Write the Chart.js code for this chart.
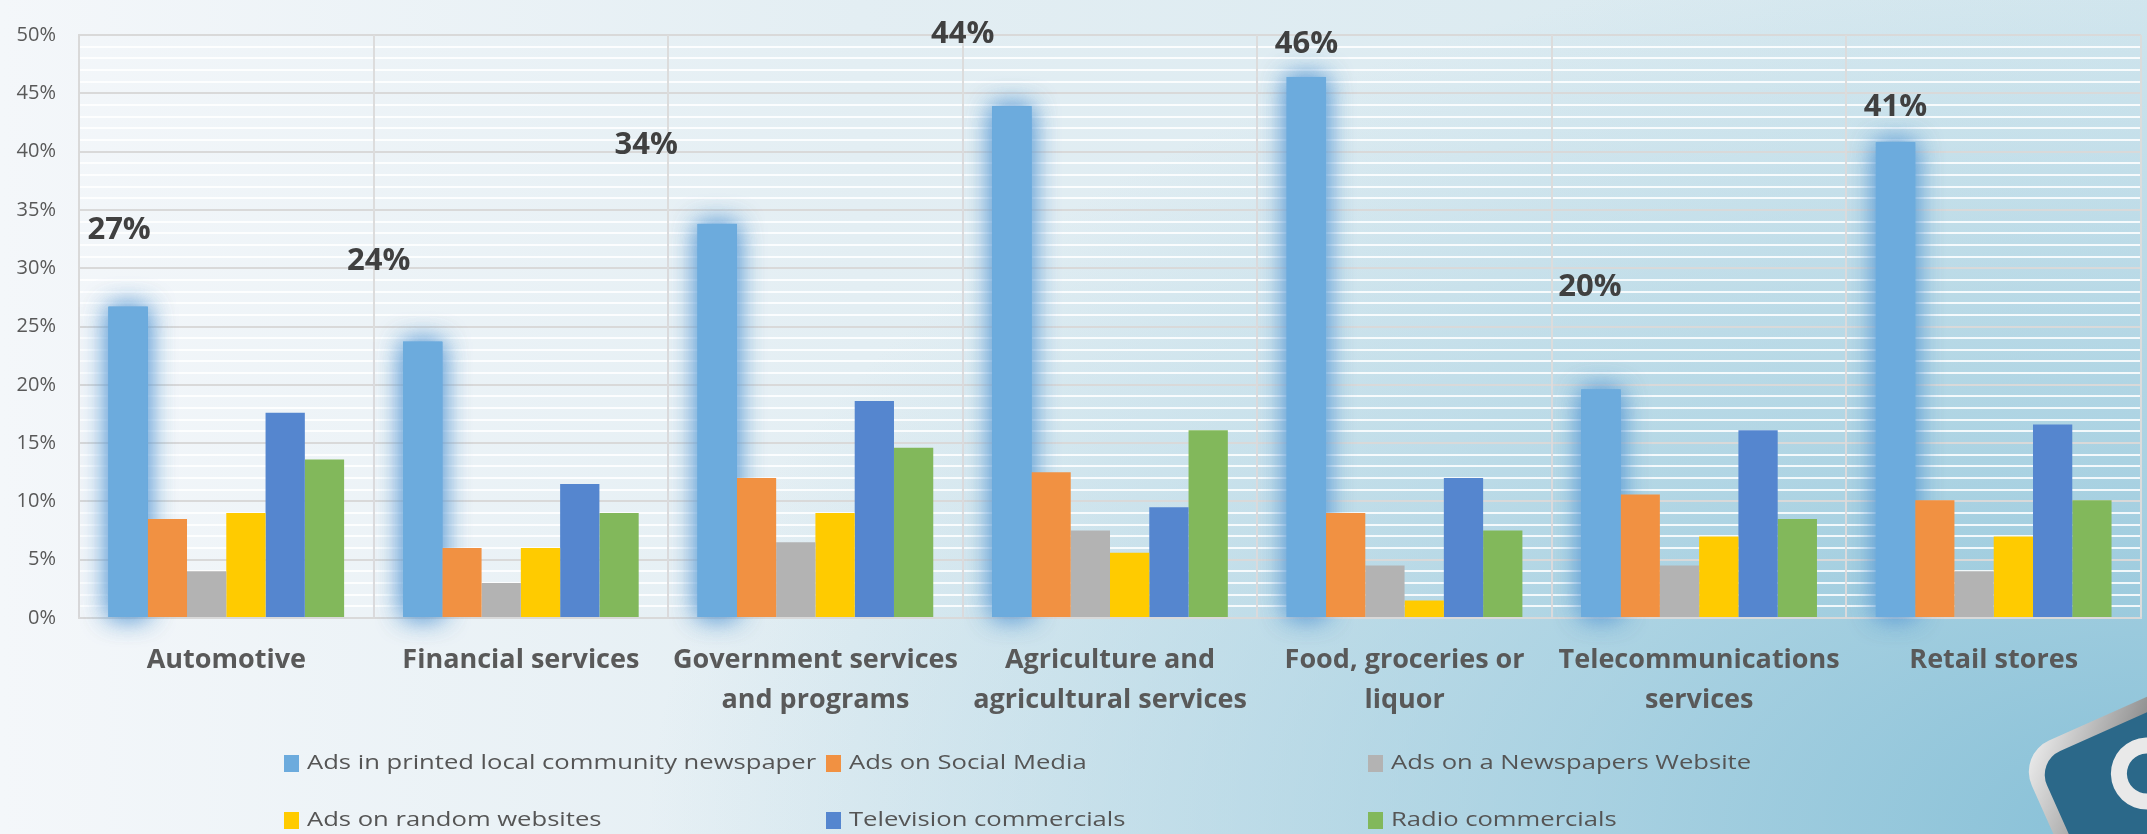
<!DOCTYPE html>
<html>
<head>
<meta charset="utf-8">
<script src="https://cdn.jsdelivr.net/npm/chart.js@4.4.1/dist/chart.umd.min.js"></script>
<style>
  html, body { margin: 0; padding: 0; }
  body {
    width: 2147px; height: 834px; overflow: hidden;
    background:
      radial-gradient(ellipse 1500px 900px at 2147px 834px, rgba(135,192,215,1) 0%, rgba(150,200,220,0.7) 40%, rgba(200,225,235,0) 100%),
      linear-gradient(90deg, #f4f7fa 0%, #e3eef3 40%, #d6e8ef 100%);
  }
  #wrap { position: relative; width: 2147px; height: 834px; }
</style>
</head>
<body>
<div id="wrap"><canvas id="adsChart"></canvas></div>
<script>
const categories = [
  'Automotive',
  'Financial services',
  ['Government services', 'and programs'],
  ['Agriculture and', 'agricultural services'],
  ['Food, groceries or', 'liquor'],
  ['Telecommunications', 'services'],
  'Retail stores'
];

const seriesNames = [
  'Ads in printed local community newspaper',
  'Ads on Social Media',
  'Ads on a Newspapers Website',
  'Ads on random websites',
  'Television commercials',
  'Radio commercials'
];

// values in %
const printedNews   = [26.7, 23.7, 33.8, 43.9, 46.4, 19.6, 40.8];
const socialMedia   = [8.5, 6.0, 12.0, 12.5, 9.0, 10.6, 10.1];
const newsWebsite   = [4.0, 3.0, 6.5, 7.5, 4.5, 4.5, 4.0];
const randomSites   = [9.0, 6.0, 9.0, 5.6, 1.5, 7.0, 7.0];
const television    = [17.6, 11.5, 18.6, 9.5, 12.0, 16.1, 16.6];
const radio         = [13.6, 9.0, 14.6, 16.1, 7.5, 8.5, 10.1];

const colors = ['#6cabdd', '#f19142', '#b3b3b3', '#ffcb00', '#5586cf', '#82b85b'];

// where each "xx%" label sits relative to the top of its newspaper bar
const labelShift = [[-9, -77], [-44, -80], [-71, -79], [-49, -72], [0, -33], [-11, -102], [0, -35]];

const FONT = "'Open Sans', sans-serif";

// soft blue halo behind the newspaper bars, painted before any bar
const glowPlugin = {
  id: 'glow',
  beforeDatasetsDraw(chart) {
    const ctx = chart.ctx;
    const meta = chart.getDatasetMeta(0);
    ctx.save();
    ctx.shadowColor = 'rgba(91,155,213,0.8)';
    ctx.shadowBlur = 26;
    ctx.fillStyle = colors[0];
    for (let pass = 0; pass < 2; pass++) {
      meta.data.forEach(bar => {
        const p = bar.getProps(['x', 'y', 'base', 'width'], true);
        ctx.fillRect(p.x - p.width / 2, p.y, p.width, p.base - p.y);
      });
    }
    ctx.restore();
  }
};

const topLabelPlugin = {
  id: 'topLabels',
  afterDatasetsDraw(chart) {
    const ctx = chart.ctx;
    const meta = chart.getDatasetMeta(0);
    ctx.save();
    ctx.font = "bold 31px " + FONT;
    ctx.fillStyle = '#404040';
    ctx.textAlign = 'center';
    ctx.textBaseline = 'middle';
    meta.data.forEach((bar, i) => {
      const txt = Math.round(printedNews[i]) + '%';
      ctx.fillText(txt, bar.x + labelShift[i][0], bar.y + labelShift[i][1]);
    });
    ctx.restore();
  }
};

// legend laid out in 3 fixed columns like the original
const legendPlugin = {
  id: 'gridLegend',
  afterDraw(chart) {
    const ctx = chart.ctx;
    const cols = [284, 826, 1368];
    const rows = [763, 820];
    ctx.save();
    ctx.font = "20px " + FONT;
    ctx.textBaseline = 'middle';
    chart.data.datasets.forEach((ds, i) => {
      const x = cols[i % 3], y = rows[Math.floor(i / 3)];
      ctx.fillStyle = ds.backgroundColor;
      ctx.fillRect(x, y - 8, 15, 17);
      ctx.fillStyle = '#555555';
      ctx.save();
      ctx.translate(x + 23, y);
      ctx.scale(1.28, 1);
      ctx.fillText(ds.label, 0, 0);
      ctx.restore();
    });
    ctx.restore();
  }
};

// the corner badge in the bottom right
const badgePlugin = {
  id: 'badge',
  afterDraw(chart) {
    const ctx = chart.ctx;
    ctx.save();
    ctx.translate(2150, 805);
    ctx.rotate(-0.42);
    const r = 34;
    function rr(x, y, w, h, rad) {
      ctx.beginPath();
      ctx.moveTo(x + rad, y);
      ctx.arcTo(x + w, y, x + w, y + h, rad);
      ctx.arcTo(x + w, y + h, x, y + h, rad);
      ctx.arcTo(x, y + h, x, y, rad);
      ctx.arcTo(x, y, x + w, y, rad);
      ctx.closePath();
    }
    const g = ctx.createLinearGradient(-100, -100, 100, 100);
    g.addColorStop(0, '#f4f4f4');
    g.addColorStop(0.4, '#8a8a8a');
    g.addColorStop(1, '#303030');
    rr(-100, -100, 200, 200, r);
    ctx.fillStyle = g;
    ctx.fill();
    rr(-86, -86, 172, 172, r - 8);
    ctx.fillStyle = '#2b6889';
    ctx.fill();
    ctx.beginPath();
    ctx.arc(10, -30, 36, 0, Math.PI * 2);
    ctx.arc(10, -30, 20, 0, Math.PI * 2, true);
    ctx.fillStyle = '#e9e9e9';
    ctx.fill();
    ctx.restore();
  }
};

const ctx = document.getElementById('adsChart').getContext('2d');
const adsChart = new Chart(ctx, {
  type: 'bar',
  data: {
    labels: categories,
    datasets: [
      { label: seriesNames[0], data: printedNews, backgroundColor: colors[0] },
      { label: seriesNames[1], data: socialMedia, backgroundColor: colors[1] },
      { label: seriesNames[2], data: newsWebsite, backgroundColor: colors[2] },
      { label: seriesNames[3], data: randomSites, backgroundColor: colors[3] },
      { label: seriesNames[4], data: television, backgroundColor: colors[4] },
      { label: seriesNames[5], data: radio, backgroundColor: colors[5] }
    ]
  },
  options: {
    responsive: true,
    maintainAspectRatio: false,
    animation: false,
    layout: { padding: { top: 21, right: 6, left: 0, bottom: 0 } },
    datasets: { bar: { categoryPercentage: 0.8, barPercentage: 1.0, borderWidth: 0 } },
    plugins: {
      legend: { display: false },
      tooltip: { enabled: false }
    },
    scales: {
      x: {
        grid: { z: -1, color: '#dcdcdc', lineWidth: 2, drawTicks: false, offset: true },
        border: { color: '#d9d9d9', width: 2 },
        ticks: {
          color: '#595959',
          padding: 22,
          maxRotation: 0,
          autoSkip: false,
          font: { family: FONT, size: 27, weight: 'bold', lineHeight: 1.48 }
        },
        afterFit(scale) { scale.height = 216; }
      },
      y: {
        min: 0,
        max: 50,
        grid: {
          z: -2,
          drawTicks: false,
          lineWidth: 2,
          color: c => (c.tick.value % 5 === 0 ? '#d9d9d9' : 'rgba(255,255,255,0.85)')
        },
        border: { color: '#d9d9d9', width: 2 },
        ticks: {
          stepSize: 1,
          autoSkip: false,
          padding: 23,
          color: '#595959',
          font: { family: FONT, size: 20 },
          callback: v => (v % 5 === 0 ? v + '%' : '')
        },
        afterFit(scale) { scale.width = 79; }
      }
    }
  },
  plugins: [glowPlugin, topLabelPlugin, legendPlugin, badgePlugin]
});
</script>
</body>
</html>
